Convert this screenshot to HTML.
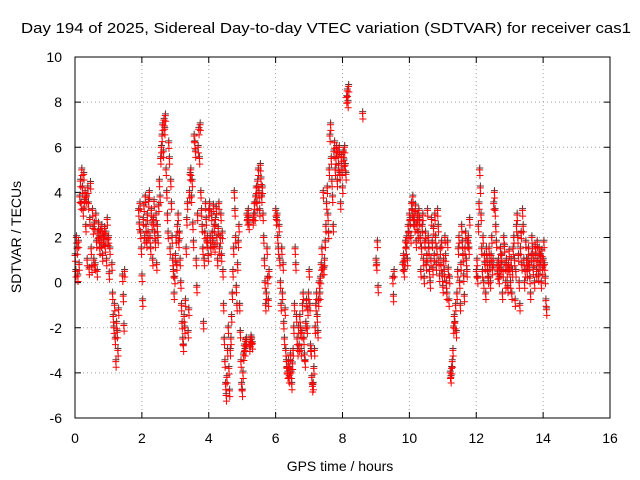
<!DOCTYPE html>
<html><head><meta charset="utf-8"><style>
body{margin:0;background:#fff;}
svg{display:block;font-family:"Liberation Sans",sans-serif;}
</style></head><body>
<svg id="chart" width="640" height="480">
<text x="326" y="33" font-size="15" textLength="610" lengthAdjust="spacingAndGlyphs" text-anchor="middle">Day 194 of 2025, Sidereal Day-to-day VTEC variation (SDTVAR) for receiver cas1</text>
<text transform="translate(21,237) rotate(-90)" font-size="14" text-anchor="middle">SDTVAR / TECUs</text>
<text x="340" y="471" font-size="14" text-anchor="middle">GPS time / hours</text>
<g id="grid"></g><g id="ticks"></g><g id="marks"></g>
<rect x="75" y="57" width="535" height="361" fill="none" stroke="#000" stroke-width="1"/>
</svg>
<script>
const xTicks=[0,2,4,6,8,10,12,14,16];
const yTicks=[-6,-4,-2,0,2,4,6,8,10];
const sampleStep=0.02;
const segStarts=[0.00,0.32,0.72,1.10,1.42,1.90,2.22,2.52,2.92,3.12,3.42,3.68,4.02,4.42,4.64,4.92,5.22,5.62,6.00,6.32,6.72,7.12,7.42,7.78,8.12,8.60,9.00,9.50,9.80,10.32,10.92,11.22,11.42,12.00,12.32,13.02,13.52];
const segValues=[
[1.2,0.5,2.0,1.5,0.3,1.8,0.8,3.8,4.5,3.5,5.0,4.2,3.2,4.8,3.6,4.0],
[2.5,3.8,1.0,4.2,3.5,0.6,2.8,4.4,1.5,0.7,3.2,2.4,1.0,2.6,0.8,3.0,1.8,0.5,2.2,2.6],
[2.0,1.5,2.3,1.8,2.5,1.2,2.0,1.9,2.4,1.6,2.2,1.0,2.8,1.9,2.0,0.4,1.5],
[0.8,-0.5,-1.5,-2.0,-1.0,-2.5,-3.5,-1.8,-2.2,-3.0,-1.2],
[0.3,-0.6,-1.9,0.5],
[3.2,2.6,3.5,2.2,1.5,0.3,-0.8,2.8,3.4,2.0,3.8,2.5,1.8,3.0,2.2,3.6],
[4.0,2.0,1.5,3.2,2.6,1.0,2.8,3.6,2.2,1.8,3.0,0.8,2.5,2.0,3.4],
[4.5,3.8,5.5,6.0,6.5,7.0,5.8,7.2,6.8,7.4,5.0,4.0,3.0,2.2,6.2,5.5,1.5,4.5,3.5,2.0],
[1.0,0.5,-0.5,0.2,1.2,2.0,0.8,2.5,3.0,1.8],
[2.2,1.0,0.0,-1.0,-1.8,-2.5,-2.8,-1.5,-2.0,-0.8,1.5,2.8,3.5,-2.2,-1.2],
[4.0,4.8,5.0,3.8,4.5,2.6,1.8,6.5,6.2,5.8,1.0,-0.2,3.0],
[6.0,6.8,5.5,7.0,4.0,3.2,2.5,1.5,-1.8,1.0,2.2,3.5,2.8,1.8,2.0,1.2,3.2],
[3.5,2.0,1.5,3.0,2.2,1.8,3.4,2.5,1.6,2.8,3.3,2.0,1.0,2.4,3.5,1.5,2.0,3.0,1.2,2.2],
[0.5,-1.0,-2.5,-3.5,-4.5,-5.0,-4.2,-3.0,-2.0,-3.8,-4.8],
[-3.0,-2.5,-1.5,-0.5,0.5,1.5,4.0,3.2,2.0,-0.2,-1.0,0.8,1.8,2.5],
[-1.0,-2.2,-3.5,-4.5,-4.8,-4.0,-3.2,-2.8,-3.0,-2.6,-2.5,3.0,2.8,3.2,2.6],
[-2.8,-2.6,-2.4,-2.5,-2.7,2.8,3.0,3.5,3.0,3.8,4.2,3.5,4.5,5.0,4.0,3.2,5.2,4.6,3.8,4.2],
[3.0,2.0,1.0,0.0,-1.0,-0.5,1.5,0.2,-0.8,0.5],
[3.2,2.8,3.0,2.0,1.5,2.5,1.0,0.0,-1.0,1.5,-0.5,0.8,-1.8,-2.5,-1.2,-3.0],
[-3.5,-3.8,-4.0,-3.5,-4.2,-3.8,-3.2,-4.0,-4.5,-3.6,-3.0,-2.0,-1.0,1.5,0.8,-1.5,-2.5,-3.0,-2.0,-2.8],
[-1.5,-2.0,-3.0,-2.2,-1.0,-0.5,-2.5,-3.2,-3.5,-1.8,-0.8,-2.0,-1.2,-0.5,0.5,-1.0,-2.8,-3.0,-4.2,-4.6],
[-4.5,-3.8,-3.0,-2.0,-1.0,-0.5,-1.5,-2.2,-0.8,0.0,-0.5,0.2,0.8,1.5,0.6],
[4.0,0.6,1.0,1.8,2.5,3.5,4.2,3.0,2.2,5.0,6.5,7.0,5.5,4.5,3.8,2.5,5.8,6.2],
[5.0,5.5,6.0,4.5,5.8,5.2,6.0,4.8,3.5,5.6,5.0,4.2,5.8,5.4,6.0,5.2,4.8],
[8.2,8.5,8.0,8.7],
[7.5],
[1.0,0.8,1.8,-0.2],
[0.2,-0.6,0.5],
[0.8,1.2,0.5,1.0,1.8,1.5,2.0,1.0,2.5,2.2,3.0,2.8,2.0,3.5,3.2,3.8,2.8,3.0,2.5,3.4,1.8,2.6,3.0,2.2,3.2,2.8],
[2.0,0.5,1.5,2.5,3.0,1.0,0.2,1.8,2.2,0.8,1.2,3.2,2.0,1.5,0.5,0.0,1.0,2.8,1.8,0.6,2.4,1.2,3.0,2.0,0.8,1.5,3.2,2.5,1.0,0.3],
[1.5,0.8,1.8,0.3,-0.2,1.0,0.5,2.0,1.2,0.0,-0.5,1.8,0.6,-0.8,0.2],
[-4.0,-4.2,-3.8,-3.5,-3.0,-2.0,-1.5,-1.8,-1.0,-2.2],
[-0.5,0.5,1.5,2.0,0.0,-1.0,0.8,2.5,1.8,1.2,0.3,-0.6,1.5,2.2,1.0,0.5,1.8,2.0,1.5,2.8],
[0.5,1.0,0.2,2.5,3.5,5.0,4.2,3.0,1.5,0.5,2.0,0.0,1.2,0.8,-0.5,1.5],
[1.0,0.5,0.2,1.5,0.8,0.0,1.2,2.0,0.6,1.0,3.5,4.0,3.2,2.5,1.8,0.8,0.4,1.0,0.2,0.6,1.5,0.8,1.2,-0.5,0.5,2.0,1.6,0.8,0.0,1.0,0.5,-0.2,0.8,1.4,0.6],
[0.0,1.0,-0.5,0.5,1.5,2.0,1.0,-0.8,0.5,2.5,3.0,2.0,1.2,0.0,-1.0,1.5,2.2,0.8,3.2,2.5,1.0,0.0,0.5,1.8,1.0],
[0.5,1.0,1.5,0.8,0.2,-0.5,1.2,2.0,1.5,0.6,1.0,0.0,1.6,1.2,0.5,1.8,1.0,0.3,1.5,0.8,1.2,0.0,1.4,0.6,1.0,1.8,0.8,0.2,-0.8,-1.2]
];
const NS='http://www.w3.org/2000/svg';
const X0=75,X1=610,Y0=418,Y1=57;
function xs(t){return X0+(t-0)/(16-0)*(X1-X0);}
function ys(v){return Y0-(v-(-6))/(10-(-6))*(Y0-Y1);}
function mk(tag,attrs,parent){const e=document.createElementNS(NS,tag);for(const k in attrs)e.setAttribute(k,attrs[k]);parent.appendChild(e);return e;}
const grid=document.getElementById('grid'),ticks=document.getElementById('ticks'),marks=document.getElementById('marks');
xTicks.forEach(t=>{
  const x=xs(t);
  if(t>0&&t<16){const g=mk('line',{x1:x,x2:x,y1:Y1,y2:Y0,stroke:'#a0a0a0','stroke-dasharray':'1,3'},grid);
  
  }
  mk('line',{x1:x,x2:x,y1:Y0,y2:Y0-6,stroke:'#000'},ticks);
  mk('line',{x1:x,x2:x,y1:Y1,y2:Y1+6,stroke:'#000'},ticks);
  const l=mk('text',{x:x,y:443,'font-size':14,'text-anchor':'middle'},ticks);
  l.textContent=t;
  
  
});
yTicks.forEach(v=>{
  const y=ys(v);
  if(v>-6&&v<10){const g=mk('line',{x1:X0,x2:X1,y1:y,y2:y,stroke:'#a0a0a0','stroke-dasharray':'1,3'},grid);
  
  }
  mk('line',{x1:X0,x2:X0+6,y1:y,y2:y,stroke:'#000'},ticks);
  mk('line',{x1:X1,x2:X1-6,y1:y,y2:y,stroke:'#000'},ticks);
  const l=mk('text',{x:62,y:y+5,'font-size':14,'text-anchor':'end'},ticks);
  l.textContent=v;
  
  
});
function plus(x,y,color){
  return mk('path',{d:`M${x-3.5},${y}H${x+3.5}M${x},${y-3.5}V${y+3.5}`,stroke:color,'stroke-width':1,fill:'none'},marks);
}
// black reference-day series drawn beneath (mostly hidden)
segValues.forEach((vals,si)=>{
  vals.forEach((v,i)=>{
    const t=segStarts[si]+i*sampleStep;
    const p=plus(xs(t+0.005),ys(v+0.08),'#404040');
    
    
  });
});
segValues.forEach((vals,si)=>{
  vals.forEach((v,i)=>{
    const t=segStarts[si]+i*sampleStep;
    const p=plus(xs(t),ys(v),'#ff0000');
    
    
    const q=plus(xs(t+0.01),ys(v-0.25),'#ff0000');
    
    
  });
});
</script>
</body></html>
